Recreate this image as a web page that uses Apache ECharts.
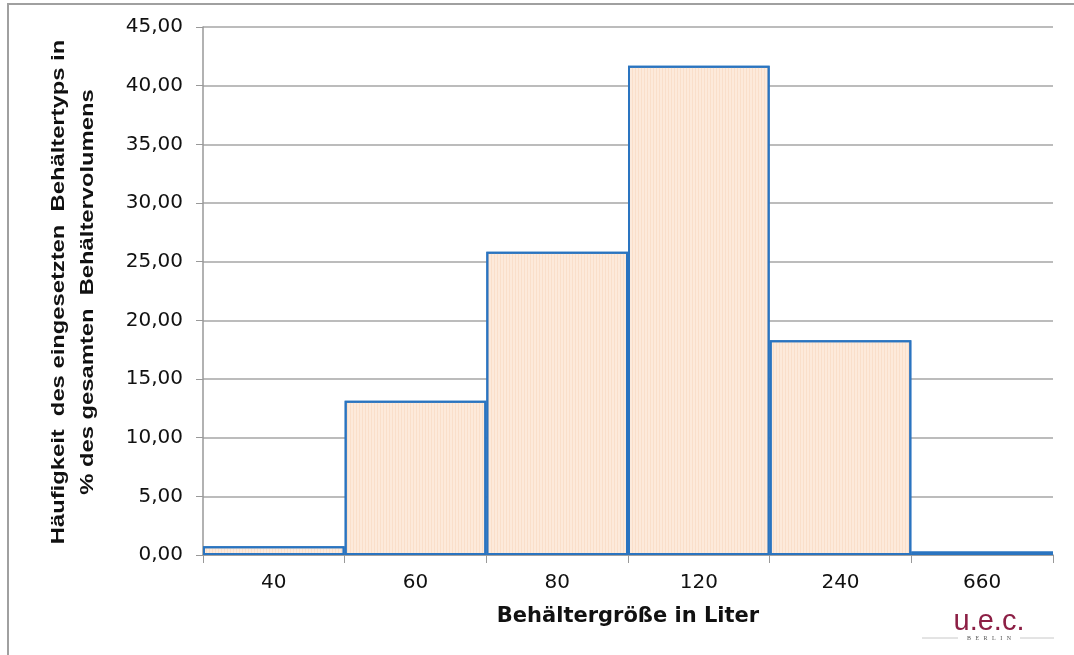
<!DOCTYPE html>
<html>
<head>
<meta charset="utf-8">
<script src="https://cdn.jsdelivr.net/npm/echarts@6/dist/echarts.min.js"></script>
<style>
html,body{margin:0;padding:0;background:#fff;}
#chart{width:1074px;height:655px;}
</style>
</head>
<body>
<div id="chart"></div>
<script>
// Container sizes (litres) and share of total container volume (%)
const categories = ['40', '60', '80', '120', '240', '660'];
const shares = [0.75, 13.15, 25.85, 41.7, 18.3, 0.3];

const yTitle = 'Häufigkeit  des eingesetzten  Behältertyps in\n% des gesamten  Behältervolumens';
const xTitle = 'Behältergröße in Liter';

const chart = echarts.init(document.getElementById('chart'));
chart.setOption({
  animation: false,
  backgroundColor: '#fff',
  grid: { left: 203, right: 21, top: 27, bottom: 100 },
  xAxis: {
    type: 'category',
    data: categories,
    name: xTitle,
    nameLocation: 'middle',
    nameGap: 51,
    nameTextStyle: { fontFamily: 'DejaVu Sans', fontWeight: 'bold', fontSize: 21, color: '#111' },
    axisLine: { show: true, lineStyle: { color: '#999', width: 1.5 } },
    axisTick: { show: true, length: 8, lineStyle: { color: '#999', width: 1 } },
    axisLabel: { fontFamily: 'DejaVu Sans', fontSize: 20, color: '#111', margin: 18 }
  },
  yAxis: {
    type: 'value',
    min: 0,
    max: 45,
    interval: 5,
    axisLine: { show: true, lineStyle: { color: '#999', width: 1.5 } },
    axisTick: { show: true, length: 7, lineStyle: { color: '#999', width: 1 } },
    axisLabel: {
      fontFamily: 'DejaVu Sans', fontSize: 20, color: '#111', margin: 20,
      formatter: v => v.toFixed(2).replace('.', ',')
    },
    splitLine: { show: true, lineStyle: { color: '#a6a6a6', width: 1.5 } }
  },
  series: [{
    type: 'bar',
    data: shares,
    barCategoryGap: '0%',
    itemStyle: {
      color: '#fdeadb',
      borderColor: '#2a74c0',
      borderWidth: 2,
      decal: {
        symbol: 'rect',
        symbolSize: 1,
        dashArrayX: [1, 0],
        dashArrayY: [1, 2],
        rotation: Math.PI / 2,
        color: 'rgba(240,190,150,0.25)'
      }
    }
  }],
  graphic: [
    { type: 'rect', shape: { x: 8, y: 4, width: 1100, height: 700 },
      style: { fill: 'none', stroke: '#a0a0a0', lineWidth: 2 }, silent: true },
    { type: 'text', x: 74, y: 292, rotation: Math.PI / 2, scaleX: 1.32, scaleY: 1,
      style: { text: yTitle, font: 'bold 18px "Liberation Sans"', fill: '#111',
        align: 'center', verticalAlign: 'middle', lineHeight: 29 } },
    { type: 'text', x: 989, y: 622,
      style: { text: 'u.e.c.', font: '29px "Liberation Sans"', fill: '#8c1f45',
        align: 'center', verticalAlign: 'middle' } },
    { type: 'text', x: 989, y: 638,
      style: { text: 'B   E   R   L   I   N', font: '6px "Liberation Serif"', fill: '#555',
        align: 'center', verticalAlign: 'middle' } },
    { type: 'line', shape: { x1: 922, y1: 638, x2: 958, y2: 638 },
      style: { stroke: '#c8c8c8', lineWidth: 1 } },
    { type: 'line', shape: { x1: 1020, y1: 638, x2: 1054, y2: 638 },
      style: { stroke: '#c8c8c8', lineWidth: 1 } }
  ]
});
</script>
</body>
</html>
